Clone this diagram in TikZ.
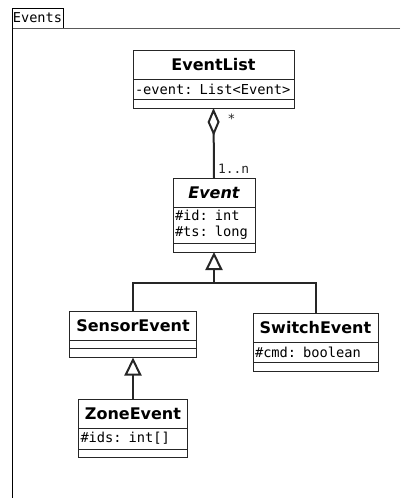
\documentclass[tikz,border=0pt]{standalone}
\usepackage{fontspec}
\newfontfamily\umlsans{DejaVu Sans}
\newfontfamily\umlmono{DejaVu Sans Mono}
\usetikzlibrary{positioning, arrows.meta}

\tikzset{
  clsname/.style={draw=black!85, line width=1pt, inner sep=0pt, outer sep=0pt,
    minimum height=29pt, font=\umlsans\bfseries\fontsize{16}{19}\selectfont},
  attrs/.style={draw=black!85, line width=1pt, inner xsep=2pt, inner ysep=0pt,
    outer sep=0pt, align=left, font=\umlmono\fontsize{13.7}{16}\selectfont},
  ops/.style={draw=black!85, line width=1pt, inner sep=0pt, outer sep=0pt,
    minimum height=9pt},
  mult/.style={inner sep=0pt, font=\umlmono\fontsize{12.9}{15}\selectfont},
  link/.style={line width=2pt, black!85},
  aggr/.style={link, {Diamond[open, length=28pt, width=12pt]}-},
  gen/.style={link, -{Triangle[open, length=18pt, width=17pt]}}
}

\begin{document}
\begin{tikzpicture}[x=1pt, y=-1pt]
\useasboundingbox (0,0) rectangle (400,498);

% package frame
\node[draw, line width=1pt, anchor=north west, minimum width=51pt, minimum height=20pt,
  inner sep=0pt, outer sep=0pt, font=\umlmono\fontsize{13.6}{16}\selectfont] (pkg) at (12,8) {Events};
\coordinate (frame-ne) at (400,28);
\coordinate (frame-sw) at (12,498);
\draw[line width=1pt, black!65] (frame-ne) -- (pkg.south west);
\draw[line width=1pt] (pkg.south west) -- (frame-sw);

% EventList
\node[clsname, minimum width=161pt] (eventlist) at (213.5,64.5) {EventList};
\node[attrs, text width=157pt, minimum height=20pt, below=0pt of eventlist] (eventlist-a) {-event: List<Event>};
\node[ops, minimum width=161pt, below=0pt of eventlist-a] (eventlist-o) {};

% Event
\node[clsname, minimum width=82pt] (event) at (214,192.5) {\itshape Event};
\node[attrs, text width=78pt, minimum height=36pt, below=0pt of event] (event-a) {\#id: int\\\#ts: long};
\node[ops, minimum width=82pt, below=0pt of event-a] (event-o) {};

% SensorEvent
\node[clsname, minimum width=127pt] (sensor) at (133,326) {SensorEvent};
\node[ops, minimum width=127pt, minimum height=8pt, below=0pt of sensor] (sensor-a) {};
\node[ops, minimum width=127pt, below=0pt of sensor-a] (sensor-o) {};

% SwitchEvent
\node[clsname, minimum width=125pt] (switch) at (315.5,327.5) {SwitchEvent};
\node[attrs, text width=121pt, minimum height=20pt, below=0pt of switch] (switch-a) {\#cmd: boolean};
\node[ops, minimum width=125pt, below=0pt of switch-a] (switch-o) {};

% ZoneEvent
\node[clsname, minimum width=109pt] (zone) at (133,413.5) {ZoneEvent};
\node[attrs, text width=105pt, minimum height=21pt, below=0pt of zone] (zone-a) {\#ids: int[]};
\node[ops, minimum width=109pt, minimum height=8pt, below=0pt of zone-a] (zone-o) {};

% relations
\draw[aggr] (eventlist-o.south) -- (event.north)
  node[mult, at start, anchor=north west, xshift=13pt, yshift=-5pt] (m-many) {*}
  node[mult, at end, anchor=south west, xshift=3pt, yshift=4pt] (m-one) {1..n};
\coordinate (gen-join) at (214,283);
\draw[gen] (sensor.north) |- (gen-join) -- (event-o.south);
\draw[link] (switch.north) |- (gen-join);
\draw[gen] (zone.north) -- (sensor-o.south);

\end{tikzpicture}
\end{document}
